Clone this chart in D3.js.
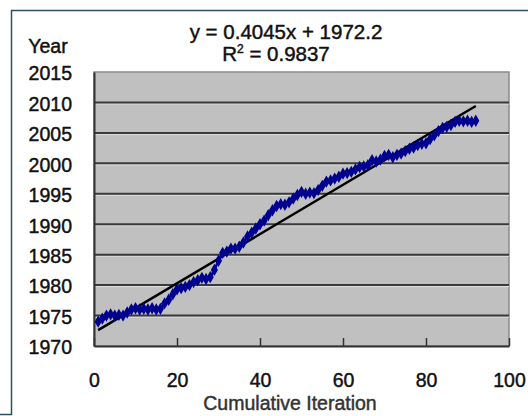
<!DOCTYPE html>
<html>
<head>
<meta charset="utf-8">
<script src="https://cdn.jsdelivr.net/npm/d3@7"></script>
<style>
  html, body { margin: 0; padding: 0; background: #fff; }
  svg { display: block; }
</style>
</head>
<body>
<div id="chart"></div>
<script>
/* global d3 */

// Iteracao (eixo x) e ano (eixo y)
const ITERATIONS = d3.range(1, 93)
const YEARS = [
  1974.0, 1974.5, 1975.0, 1975.2, 1975.0, 1975.1, 1975.0, 1975.5, 1976.0, 1976.2,
  1976.0, 1976.1, 1976.0, 1976.2, 1976.0, 1976.1, 1977.0, 1977.6, 1978.5, 1979.3,
  1979.5, 1979.7, 1980.0, 1980.5, 1980.8, 1981.2, 1981.0, 1981.3, 1982.5, 1984.0,
  1985.3, 1985.5, 1986.0, 1986.0, 1986.3, 1987.0, 1988.0, 1988.6, 1989.3, 1990.0,
  1990.6, 1991.5, 1992.3, 1993.0, 1993.3, 1993.2, 1993.6, 1994.2, 1994.8, 1995.3,
  1995.0, 1995.2, 1995.1, 1995.6, 1996.3, 1997.0, 1997.2, 1997.5, 1997.8, 1998.3,
  1998.4, 1998.6, 1999.0, 1999.4, 1999.5, 1999.7, 2000.5, 2000.3, 2000.6, 2001.2,
  2001.4, 2001.0, 2001.4, 2001.6, 2002.0, 2002.4, 2002.6, 2003.0, 2003.2, 2003.3,
  2004.0, 2004.6, 2005.3, 2005.8, 2006.0, 2006.3, 2006.8, 2007.0, 2006.9, 2007.0,
  2006.8, 2007.0
]
const TREND = { slope: 0.4045, intercept: 1972.2, r2: 0.9837 }
const X_TICKS = [0, 20, 40, 60, 80, 100]
const Y_TICKS = [1970, 1975, 1980, 1985, 1990, 1995, 2000, 2005, 2010, 2015]

const STYLE = {
  width: 528,
  height: 416,
  margin: { top: 72, bottom: 70, left: 94, right: 19 },
  plotColor: '#c0c0c0',
  pointColor: '#000090',
  font: '"Liberation Sans", Arial, sans-serif'
}

// texto um pouco mais grosso, como na imagem original
function heavyText (sel, color = '#111') {
  sel.attr('fill', color)
    .attr('stroke', color)
    .attr('stroke-width', 0.45)
}

function drawChart () {
  const { width, height, margin, plotColor, pointColor, font } = STYLE
  const data = ITERATIONS.map((it, i) => ({ it, year: YEARS[i] }))

  const svg = d3.select('#chart')
    .append('svg')
    .attr('width', width)
    .attr('height', height)
    .style('font-family', font)

  // Moldura exterior
  svg.append('path')
    .attr('d', `M0,414.5H11.5V10.5H${width}`)
    .attr('fill', 'none')
    .attr('stroke', '#2f4f5a')
    .attr('stroke-width', 1.5)

  const x = d3.scaleLinear()
    .domain([0, 100])
    .range([margin.left, width - margin.right])

  const y = d3.scaleLinear()
    .domain([1970, 2015])
    .range([height - margin.bottom, margin.top])

  // Area do grafico
  svg.append('rect')
    .attr('x', x(0))
    .attr('y', y(2015))
    .attr('width', x(100) - x(0))
    .attr('height', y(1970) - y(2015))
    .attr('fill', plotColor)
    .attr('stroke', '#8a8a8a')
    .attr('stroke-width', 1.5)

  // Linhas de grelha
  const inner = Y_TICKS.filter(d => d > 1970 && d < 2015)
  const grid = svg.append('g')
  grid.selectAll('line.hi')
    .data(inner)
    .join('line')
    .attr('class', 'hi')
    .attr('x1', x(0))
    .attr('x2', x(100))
    .attr('y1', d => y(d) + 1.5)
    .attr('y2', d => y(d) + 1.5)
    .attr('stroke', '#e2e2e2')
    .attr('stroke-width', 1)
  grid.selectAll('line.main')
    .data(inner)
    .join('line')
    .attr('class', 'main')
    .attr('x1', x(0))
    .attr('x2', x(100))
    .attr('y1', d => y(d))
    .attr('y2', d => y(d))
    .attr('stroke', '#3a3a3a')
    .attr('stroke-width', 2)

  // Eixos
  const xAxis = d3.axisBottom(x).tickValues(X_TICKS).tickSize(-8).tickSizeOuter(0).tickPadding(27)
  svg.append('g')
    .attr('transform', `translate(0,${y(1970)})`)
    .call(xAxis)
    .call(g => g.select('.domain').attr('stroke', '#333').attr('stroke-width', 2))
    .call(g => g.selectAll('.tick line').attr('stroke', '#333').attr('stroke-width', 1.5))
    .call(g => g.selectAll('.tick text')
      .attr('font-family', font)
      .attr('font-size', 19.5)
      .call(heavyText))

  const yAxis = d3.axisLeft(y).tickValues(Y_TICKS).tickFormat(d3.format('d'))
    .tickSize(0).tickSizeOuter(0).tickPadding(22)
  svg.append('g')
    .attr('transform', `translate(${x(0)},0)`)
    .call(yAxis)
    .call(g => g.select('.domain').attr('stroke', '#333').attr('stroke-width', 2))
    .call(g => g.selectAll('.tick text')
      .attr('font-family', font)
      .attr('font-size', 19.5)
      .attr('dy', '0.4em')
      .call(heavyText))

  // Linha de tendencia
  const xr = d3.extent(ITERATIONS)
  svg.append('line')
    .attr('x1', x(xr[0]))
    .attr('x2', x(xr[1]))
    .attr('y1', y(TREND.slope * xr[0] + TREND.intercept))
    .attr('y2', y(TREND.slope * xr[1] + TREND.intercept))
    .attr('stroke', '#000')
    .attr('stroke-width', 2.5)

  // Serie
  svg.append('path')
    .datum(data)
    .attr('d', d3.line().x(d => x(d.it)).y(d => y(d.year)))
    .attr('fill', 'none')
    .attr('stroke', pointColor)
    .attr('stroke-width', 2.5)

  svg.append('g')
    .selectAll('path')
    .data(data)
    .join('path')
    .attr('d', d3.symbol(d3.symbolDiamond, 44))
    .attr('transform', d => `translate(${x(d.it)},${y(d.year)})`)
    .attr('fill', pointColor)

  // Textos
  svg.append('text')
    .attr('x', 286)
    .attr('y', 39)
    .attr('text-anchor', 'middle')
    .attr('font-size', 20.5)
    .call(heavyText)
    .text(`y = ${TREND.slope}x + ${TREND.intercept}`)

  const r2 = svg.append('text')
    .attr('x', 276)
    .attr('y', 61)
    .attr('text-anchor', 'middle')
    .attr('font-size', 20.5)
    .call(heavyText)
  r2.append('tspan').text('R')
  r2.append('tspan').attr('font-size', 12).attr('dy', -8).text('2')
  r2.append('tspan').attr('dy', 8).text(` = ${TREND.r2}`)

  svg.append('text')
    .attr('x', 48)
    .attr('y', 53)
    .attr('text-anchor', 'middle')
    .attr('font-size', 19.5)
    .call(heavyText)
    .text('Year')

  svg.append('text')
    .attr('x', 290)
    .attr('y', 410)
    .attr('text-anchor', 'middle')
    .attr('font-size', 19.5)
    .call(heavyText, '#333')
    .text('Cumulative Iteration')
}

window.addEventListener('DOMContentLoaded', () => {
  drawChart()
})
</script>
</body>
</html>
